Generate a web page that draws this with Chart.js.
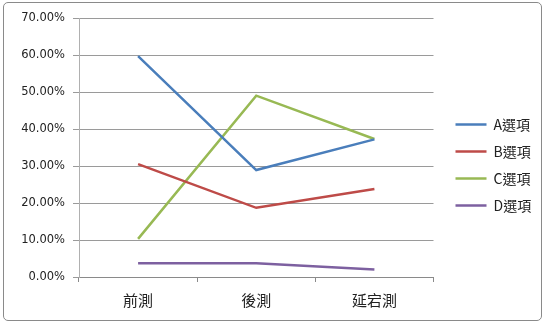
<!DOCTYPE html>
<html>
<head>
<meta charset="utf-8">
<script src="https://cdn.jsdelivr.net/npm/chart.js@4"></script>
<style>
    body { margin: 0; background: #fff; }
    #wrap { position: relative; width: 545px; height: 324px; }
    #frame {
        position: absolute; left: 3px; top: 2px; width: 537px; height: 317px;
        border: 1px solid #8a8a8a; border-radius: 5px; pointer-events: none;
    }
</style>
</head>
<body>
<div id="wrap">
    <canvas id="chart" width="545" height="324"></canvas>
    <div id="frame"></div>
</div>
<script>
const categories = ['前測', '後測', '延宕測'];
const seriesNames = ['A選項', 'B選項', 'C選項', 'D選項'];
const seriesA = [59.7, 28.9, 37.2];
const seriesB = [30.5, 18.7, 23.8];
const seriesC = [10.3, 49.0, 37.3];
const seriesD = [3.7, 3.7, 2.0];
const colors = ['#4a7ebb', '#be4b48', '#98b954', '#7d60a0'];

const values = [seriesA, seriesB, seriesC, seriesD];

const ctx = document.getElementById('chart').getContext('2d');

const chart = new Chart(ctx, {
    type: 'line',
    data: {
        labels: categories,
        datasets: values.map((v, i) => ({
            label: seriesNames[i],
            data: v,
            borderColor: colors[i],
            backgroundColor: colors[i],
            borderWidth: 2.5,
            pointRadius: 0,
            tension: 0
        }))
    },
    options: {
        responsive: false,
        animation: false,
        layout: { padding: { top: 18, right: 14, bottom: 12, left: 0 } },
        plugins: {
            tooltip: { enabled: false },
            legend: {
                position: 'right',
                align: 'center',
                labels: {
                    usePointStyle: true,
                    pointStyle: 'line',
                    pointStyleWidth: 31,
                    boxHeight: 3,
                    padding: 13,
                    color: '#222',
                    font: { family: '"Noto Sans CJK TC", "DejaVu Sans"', size: 14 }
                }
            }
        },
        scales: {
            x: {
                offset: true,
                grid: { offset: true, drawOnChartArea: false, tickLength: 5, color: '#8a8a8a' },
                border: { color: '#8a8a8a' },
                ticks: {
                    color: '#222',
                    padding: 9,
                    font: { family: '"Noto Sans CJK TC"', size: 15 }
                },
                afterFit: scale => { scale.height = 35; }
            },
            y: {
                min: 0,
                max: 70,
                ticks: {
                    stepSize: 10,
                    color: '#222',
                    padding: 8,
                    font: { family: '"DejaVu Sans"', size: 11.5 },
                    callback: v => v.toFixed(2) + '%'
                },
                grid: { color: '#9a9a9a', tickLength: 6 },
                border: { color: '#b0b0b0' },
                afterFit: scale => { scale.width = 79; }
            },
            // empty spacer between plot and legend
            gap: {
                type: 'linear',
                position: 'right',
                grid: { display: false },
                border: { display: false },
                ticks: { display: false },
                afterFit: scale => { scale.width = 9; }
            }
        }
    }
});
</script>
</body>
</html>
